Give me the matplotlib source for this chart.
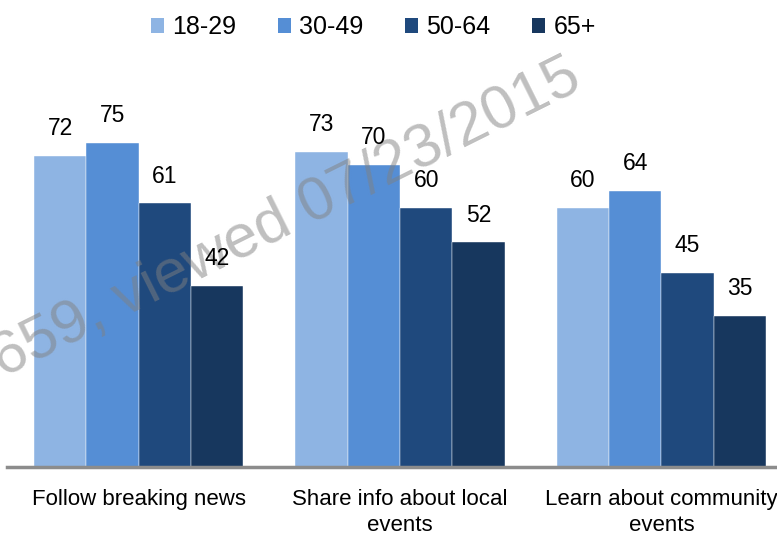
import matplotlib.pyplot as plt
import numpy as np
from matplotlib.patches import Patch

plt.rcParams['font.family'] = ['Liberation Sans', 'DejaVu Sans']

categories = ['Follow breaking news', 'Share info about local\nevents', 'Learn about community\nevents']
age_groups = ['18-29', '30-49', '50-64', '65+']
values = {
	'18-29': [72, 73, 60],
	'30-49': [75, 70, 64],
	'50-64': [61, 60, 45],
	'65+': [42, 52, 35],
}
colors = ['#8EB4E3', '#558ED5', '#1F497D', '#17375E']
watermark = '659, viewed 07/23/2015'

fig = plt.figure(figsize=(7.77, 5.35), dpi=100)
ax = fig.add_axes([7 / 777, 68 / 535, 770 / 777, 432 / 535])

centres = np.arange(len(categories)) * 5.0
offsets = [-1.5, -0.5, 0.5, 1.5]
for j, age in enumerate(age_groups):
	x = centres + offsets[j]
	bars = ax.bar(x, values[age], width=1.0, color=colors[j], edgecolor='white', linewidth=0.3, zorder=1)
	for xi, v in zip(x, values[age]):
		ax.text(xi, v + 3.6, str(v), ha='center', va='bottom', fontsize=16.5, color='black', zorder=4)

ax.set_xlim(-2.516, 12.21)
ax.set_ylim(0, 100)
ax.set_xticks(centres)
ax.set_xticklabels(categories, fontsize=16, linespacing=1.3)
ax.tick_params(axis='x', length=0, pad=16)
ax.set_yticks([])
for s in ['top', 'left', 'right']:
	ax.spines[s].set_visible(False)
ax.spines['bottom'].set_color('#8c8c8c')
ax.spines['bottom'].set_linewidth(2.5)

# filigrane
ax.text(2 / 777, 1 - 378 / 535, watermark, transform=fig.transFigure, rotation=26.5,
	rotation_mode='anchor', ha='left', va='baseline', fontsize=44, color='#808080',
	alpha=0.5, zorder=2, clip_on=False)

handles = [Patch(facecolor=c, edgecolor='none') for c in colors]
fig.legend(handles, age_groups, loc='center left', bbox_to_anchor=(151 / 777, 1 - 27 / 535),
	ncol=4, frameon=False, fontsize=18, handlelength=0.52, handleheight=0.56,
	handletextpad=0.32, columnspacing=1.68, borderpad=0, borderaxespad=0)

fig.savefig('out.png', dpi=100)
